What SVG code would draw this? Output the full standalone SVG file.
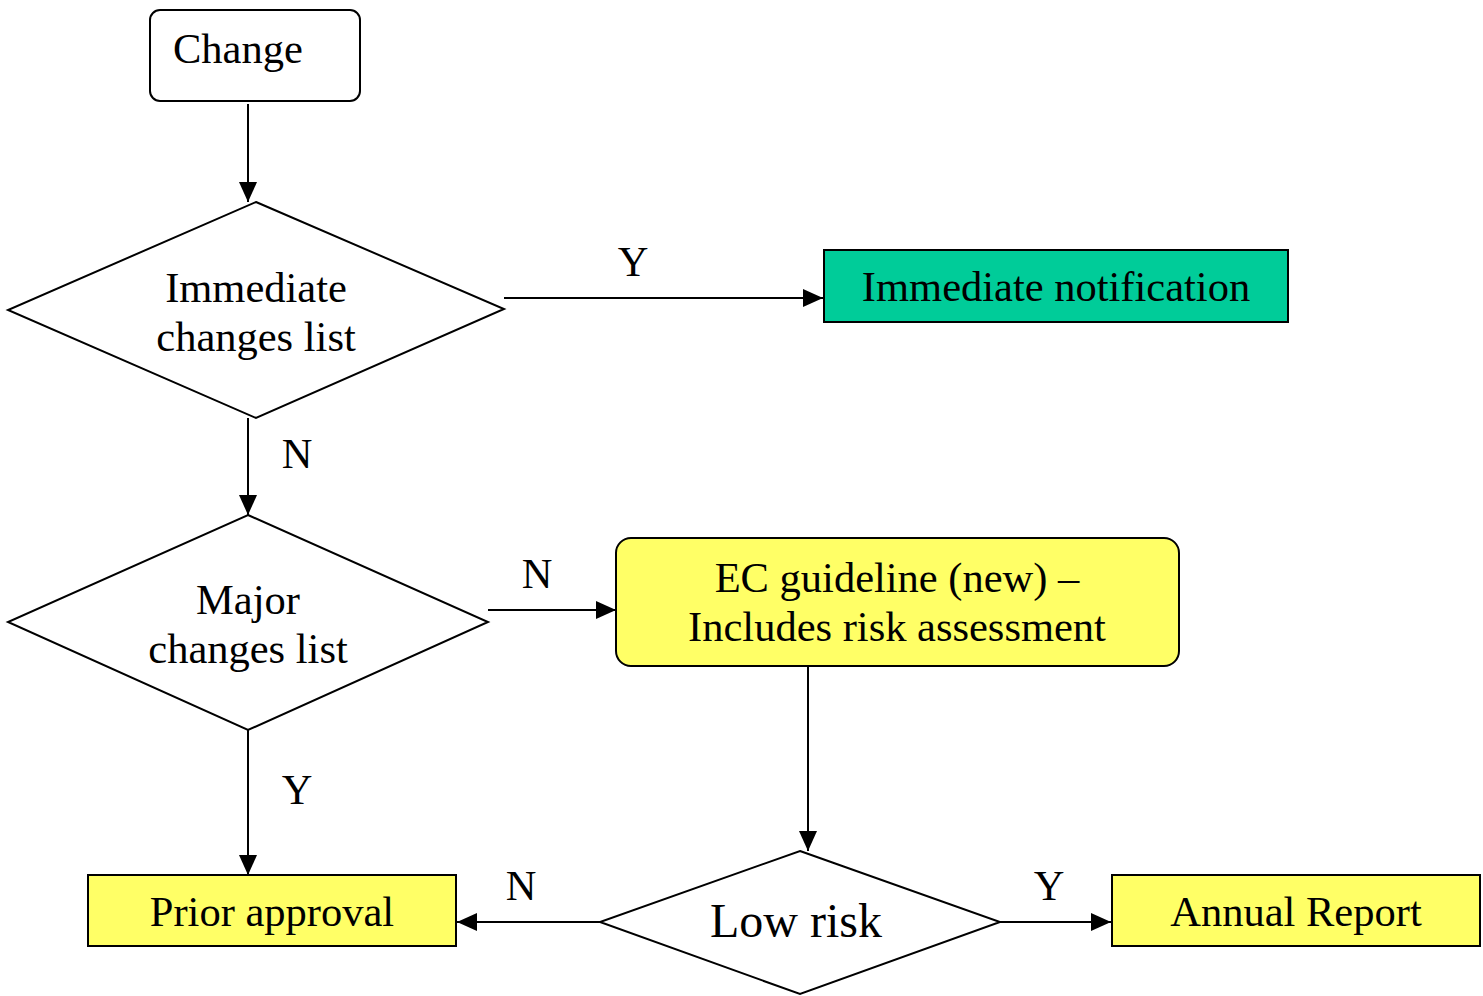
<svg xmlns="http://www.w3.org/2000/svg" width="1483" height="996" viewBox="0 0 1483 996">
  <style>
    .shape { stroke: #000; stroke-width: 2; }
    .label { font-family: "Liberation Serif", "Times New Roman", serif; font-size: 42.5px; fill: #000; }
    .mid { text-anchor: middle; }
    .edge { stroke: #000; stroke-width: 2; fill: none; marker-end: url(#arrow); }
  </style>
  <defs>
    <marker id="arrow" viewBox="0 0 20 18" refX="20" refY="9" markerWidth="20" markerHeight="18" markerUnits="userSpaceOnUse" orient="auto">
      <path d="M0,0 L20,9 L0,18 Z" fill="#000"/>
    </marker>
  </defs>
  <rect width="1483" height="996" fill="#fff"/>

  <g id="connectors">
    <line class="edge" x1="248" y1="104" x2="248" y2="202"/>
    <line class="edge" x1="504" y1="298" x2="823" y2="298"/>
    <line class="edge" x1="248" y1="418" x2="248" y2="515"/>
    <line class="edge" x1="488" y1="610" x2="616" y2="610"/>
    <line class="edge" x1="808" y1="666" x2="808" y2="851"/>
    <line class="edge" x1="248" y1="730" x2="248" y2="875"/>
    <line class="edge" x1="600" y1="922" x2="457" y2="922"/>
    <line class="edge" x1="1000" y1="922" x2="1111" y2="922"/>
    <text class="label" x="633" y="276" text-anchor="middle">Y</text>
    <text class="label" x="297" y="468" text-anchor="middle">N</text>
    <text class="label" x="537" y="588" text-anchor="middle">N</text>
    <text class="label" x="297" y="804" text-anchor="middle">Y</text>
    <text class="label" x="521" y="900" text-anchor="middle">N</text>
    <text class="label" x="1049" y="900" text-anchor="middle">Y</text>
  </g>

  <g id="change">
    <rect class="shape" x="150" y="10" width="210" height="91" rx="10" fill="#fff"/>
    <text class="label" x="173" y="63">Change</text>
  </g>

  <g id="immediate-changes">
    <polygon class="shape" points="256,202 504,309 256,418 8,310" fill="#fff"/>
    <text class="label mid" x="256" y="302">Immediate</text>
    <text class="label mid" x="256" y="351">changes list</text>
  </g>

  <g id="immediate-notification">
    <rect class="shape" x="824" y="250" width="464" height="72" fill="#00CC99"/>
    <text class="label mid" x="1056" y="301">Immediate notification</text>
  </g>

  <g id="major-changes">
    <polygon class="shape" points="248,515 488,622 248,730 8,622" fill="#fff"/>
    <text class="label mid" x="248" y="614">Major</text>
    <text class="label mid" x="248" y="663">changes list</text>
  </g>

  <g id="ec-guideline">
    <rect class="shape" x="616" y="538" width="563" height="128" rx="15" fill="#FFFF66"/>
    <text class="label mid" x="897" y="592">EC guideline (new) –</text>
    <text class="label mid" x="897" y="641">Includes risk assessment</text>
  </g>

  <g id="low-risk">
    <polygon class="shape" points="800,851 1000,922 800,994 600,922" fill="#fff"/>
    <text class="label mid" x="796" y="937" style="font-size:48px">Low risk</text>
  </g>

  <g id="prior-approval">
    <rect class="shape" x="88" y="875" width="368" height="71" fill="#FFFF66"/>
    <text class="label mid" x="272" y="926">Prior approval</text>
  </g>

  <g id="annual-report">
    <rect class="shape" x="1112" y="875" width="368" height="71" fill="#FFFF66"/>
    <text class="label mid" x="1296" y="926">Annual Report</text>
  </g>
</svg>
